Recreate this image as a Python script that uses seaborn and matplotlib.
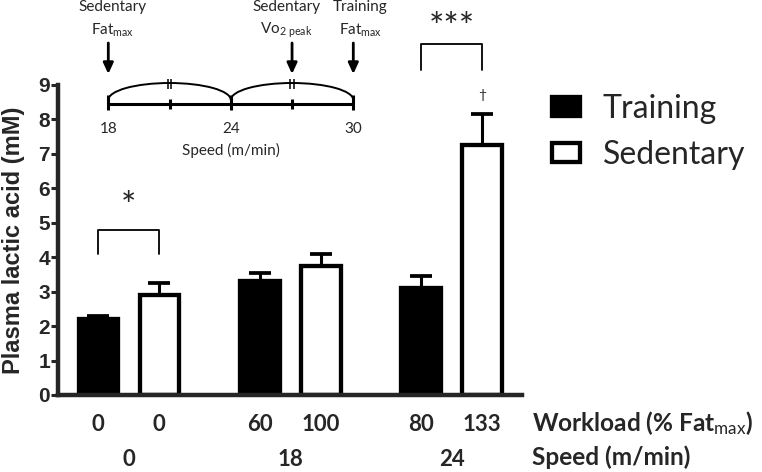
import numpy as np
import pandas as pd
import matplotlib
matplotlib.use("Agg")
import matplotlib.pyplot as plt
import seaborn as sns
from matplotlib.patches import Arc

# bar data
speed = ["0", "0", "18", "18", "24", "24"]
group = ["Training", "Sedentary", "Training", "Sedentary", "Training", "Sedentary"]
workload = ["0", "0", "60", "100", "80", "133"]
lactate = [2.2, 2.9, 3.3, 3.75, 3.1, 7.25]
sem = [0.1, 0.35, 0.25, 0.35, 0.35, 0.9]

speed_levels = ["0", "18", "24"]
groups = ["Training", "Sedentary"]

# significance marks: speed group, text, leg bottom, bracket top, star height
sig_group = ["0", "24"]
sig_text = ["*", "***"]
sig_low = [4.1, 9.45]
sig_high = [4.8, 10.2]
sig_star_y = [5.45, 10.65]

# inset schematic (speed axis, m/min)
inset_ticks = [18, 24, 30]
inset_minor = [21, 27]
arrow_speeds = [18, 27, 30]
arrow_top = ["Sedentary", "Sedentary", "Training"]
arrow_bottom = [r"Fat$_{\mathrm{max}}$", r"Vo$_{\mathrm{2\ peak}}$", r"Fat$_{\mathrm{max}}$"]

df = pd.DataFrame({"speed": speed, "group": group, "workload": workload,
                   "lactate": lactate, "sem": sem})

sns.set_style("ticks")
plt.rcParams["font.family"] = ["Lato", "DejaVu Sans"]
plt.rcParams["mathtext.fontset"] = "custom"
plt.rcParams["mathtext.rm"] = "Lato"
plt.rcParams["mathtext.it"] = "Lato:italic"
plt.rcParams["mathtext.bf"] = "Lato:bold"

W, H = 762, 472
fig = plt.figure(figsize=(W / 100, H / 100), dpi=100)
ax = fig.add_axes([58.3 / W, (H - 395) / H, (522.3 - 58.3) / W, (395 - 85) / H])

sns.barplot(data=df, x="speed", y="lactate", hue="group", order=speed_levels,
            hue_order=groups, palette={"Training": "black", "Sedentary": "white"},
            edgecolor="black", linewidth=3.1, width=0.756, gap=0.35,
            errorbar=None, legend=False, ax=ax)

bar_containers = list(ax.containers)

# bar centres / tops, matched back to the table
pos = {}
for g, cont in zip(groups, bar_containers):
    for s, p in zip(speed_levels, cont):
        pos[(s, g)] = (p.get_x() + p.get_width() / 2, p.get_height())

xs = np.array([pos[(s, g)][0] for s, g in zip(df.speed, df.group)])
tops = np.array([pos[(s, g)][1] for s, g in zip(df.speed, df.group)])
ax.errorbar(xs, tops, yerr=[np.zeros(len(xs)), df["sem"]], fmt="none",
            ecolor="black", elinewidth=2.2, capsize=8.2, capthick=2.7, zorder=1)

ax.set_ylim(0, 9)
ax.set_xlim(-0.437, 2.437)
ax.set_yticks(range(0, 10))
for s in ["top", "right"]:
    ax.spines[s].set_visible(False)
for s in ["left", "bottom"]:
    ax.spines[s].set_linewidth(3.2)
ax.tick_params(axis="y", length=5, width=2.2, pad=1)
for lab in ax.get_yticklabels():
    lab.set_fontfamily("Liberation Sans")
    lab.set_fontweight("bold")
    lab.set_fontsize(15)

ax.set_ylabel("Plasma lactic acid (mM)", fontfamily="Liberation Sans",
              fontweight="bold", fontsize=17)
ax.yaxis.set_label_coords(-0.072, 0.5)

# workload row
order = np.argsort(xs)
ax.set_xticks(xs[order], [workload[i] for i in order])
ax.tick_params(axis="x", length=0, pad=13.5, labelsize=16)
for lab in ax.get_xticklabels():
    lab.set_fontweight("bold")
ax.set_xlabel("")

# speed row
sec = ax.secondary_xaxis(location=0)
sec.set_xticks(range(len(speed_levels)), speed_levels)
sec.tick_params(axis="x", length=0, pad=39, labelsize=16)
sec.spines["bottom"].set_visible(False)
for lab in sec.get_xticklabels():
    lab.set_fontweight("bold")

fig.text(531.7 / W, 1 - 422.7 / H, r"Workload (% Fat$_{\mathrm{max}}$)",
         fontsize=17.6, fontweight="bold", va="center", ha="left")
fig.text(531.7 / W, 1 - 457.5 / H, "Speed (m/min)",
         fontsize=17.6, fontweight="bold", va="center", ha="left")

# significance brackets
for s, t, lo, hi, ys in zip(sig_group, sig_text, sig_low, sig_high, sig_star_y):
    x1 = pos[(s, "Training")][0]
    x2 = pos[(s, "Sedentary")][0]
    ax.plot([x1, x1, x2, x2], [lo, hi, hi, lo], color="black", lw=1.3,
            clip_on=False)
    ax.text((x1 + x2) / 2, ys, t, ha="center", va="center",
            fontsize=26, clip_on=False)

# dagger above the 133 % bar
xd, yd = pos[("24", "Sedentary")]
ax.text(xd, yd + df["sem"].iloc[5] + 0.55, "\u2020", ha="center", va="center",
        fontsize=10)

# legend
leg = fig.legend(handles=bar_containers, labels=groups, loc="upper left",
                 bbox_to_anchor=(552 / W, 1 - 94 / H), frameon=False,
                 fontsize=23, handlelength=0.875, handleheight=0.56,
                 handletextpad=0.72, labelspacing=0.5, borderpad=0,
                 borderaxespad=0)

# inset schematic
px = (353.3 - 108.3) / 12
left_px = 108.3 - 4 * px
right_px = 353.3 + 4 * px
ax_in = fig.add_axes([left_px / W, (H - 160) / H, (right_px - left_px) / W, 160 / H])
ax_in.set_xlim(14, 34)
ax_in.set_ylim(160, 0)
ax_in.axis("off")

ax_in.plot([inset_ticks[0], inset_ticks[-1]], [104.3, 104.3], color="black", lw=2.2)
ax_in.vlines(inset_ticks, 95, 110, color="black", lw=2.2)
ax_in.vlines(inset_minor, 98.5, 108.5, color="black", lw=2.2)
for a, b in zip(inset_ticks[:-1], inset_ticks[1:]):
    ax_in.add_patch(Arc(((a + b) / 2, 100), b - a, 34, theta1=180, theta2=360,
                        color="black", lw=1.4))
for m in inset_minor:
    ax_in.vlines([m - 0.09, m + 0.09], 79, 89, color="black", lw=1.1)
for t in inset_ticks:
    ax_in.text(t, 129, str(t), ha="center", va="center", fontsize=11)
ax_in.text(24, 150, "Speed (m/min)", ha="center", va="center", fontsize=11)

shift = [0.23, -0.27, 0.33]
for s, top, bot, d in zip(arrow_speeds, arrow_top, arrow_bottom, shift):
    ax_in.annotate("", xy=(s, 74), xytext=(s, 43),
                   arrowprops=dict(arrowstyle="-|>,head_length=0.65,head_width=0.3",
                                   lw=2, color="black", shrinkA=0, shrinkB=0))
    ax_in.text(s + d, 6.7, top, ha="center", va="center", fontsize=11)
    ax_in.text(s + d, 30, bot, ha="center", va="center", fontsize=11)

fig.savefig("out.png", dpi=100)
